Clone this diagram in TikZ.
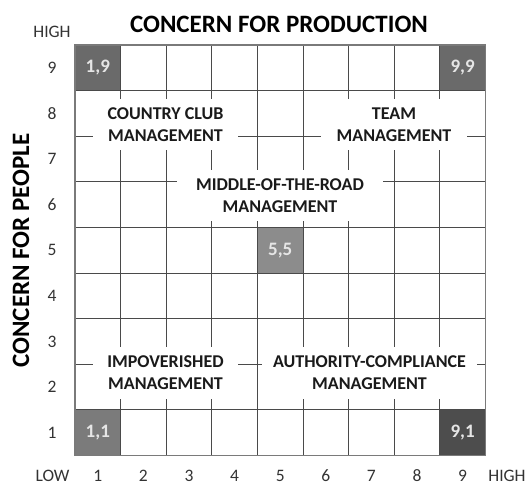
\documentclass[tikz,border=0pt]{standalone}
\usepackage{fontspec}
\setmainfont{Carlito}
\definecolor{gridgray}{HTML}{4A4A4A}
\definecolor{framegray}{HTML}{7A7A7A}
\definecolor{numgray}{HTML}{333333}
\definecolor{celltext}{HTML}{E6E6E6}
\definecolor{cellA}{HTML}{6A6A6A}
\definecolor{cellB}{HTML}{8C8C8C}
\definecolor{cellC}{HTML}{7B7B7B}
\definecolor{cellD}{HTML}{4D4D4D}
\definecolor{labeltext}{HTML}{1A1A1A}
\begin{document}
\begin{tikzpicture}[x=1pt,y=-1pt,
  gridline/.style={draw=gridgray, line width=0.9pt},
  frameline/.style={draw=framegray, line width=1.5pt},
  axisnum/.style={text=numgray, inner sep=0pt, font=\fontsize{17.5}{20}\selectfont},
  axistitle/.style={text=black, inner sep=0pt, font=\bfseries\fontsize{25}{30}\selectfont},
  cornercell/.style={minimum width=45.6pt, minimum height=45.6pt, inner sep=0pt,
    text=celltext, font=\bfseries\fontsize{19}{22}\selectfont},
  stylebox/.style={fill=white, inner sep=0pt, minimum height=51pt, align=center,
    text=labeltext, font=\bfseries\fontsize{18}{21.7}\selectfont}
]
\useasboundingbox (0,0) rectangle (525,486);
\def\gl{75}\def\gt{45}\def\cellsz{45.6}\def\gb{455.4}\def\gr{485.4}

% highlighted grid squares (column, row)
\node[cornercell, fill=cellA] (c19) at ({\gl+0.5*\cellsz},{\gb-8.5*\cellsz}) {1,9};
\node[cornercell, fill=cellA] (c99) at ({\gl+8.5*\cellsz},{\gb-8.5*\cellsz}) {9,9};
\node[cornercell, fill=cellB] (c55) at ({\gl+4.5*\cellsz},{\gb-4.5*\cellsz}) {5,5};
\node[cornercell, fill=cellC] (c11) at ({\gl+0.5*\cellsz},{\gb-0.5*\cellsz}) {1,1};
\node[cornercell, fill=cellD] (c91) at ({\gl+8.5*\cellsz},{\gb-0.5*\cellsz}) {9,1};

% inner grid lines
\foreach \k in {1,...,8}{
  \draw[gridline] ({\gl+\k*\cellsz},\gt) -- ({\gl+\k*\cellsz},\gb);
  \draw[gridline] (\gl,{\gt+\k*\cellsz}) -- (\gr,{\gt+\k*\cellsz});
}
% outer frame
\draw[frameline] (\gl,\gt) rectangle (\gr,\gb);

% management styles, set on white patches over the grid
\node[stylebox, minimum width=145pt] (club) at (165.5,125) {COUNTRY CLUB\\MANAGEMENT};
\node[stylebox, minimum width=146pt] (team) at (394,125) {TEAM\\MANAGEMENT};
\node[stylebox, minimum width=206pt] (middle) at (280,195.5) {MIDDLE-OF-THE-ROAD\\MANAGEMENT};
\node[stylebox, minimum width=145pt] (impov) at (165.5,373) {IMPOVERISHED\\MANAGEMENT};
\node[stylebox, minimum width=215pt] (auth) at (369.5,373) {AUTHORITY-COMPLIANCE\\MANAGEMENT};

% axis scales
\foreach \i in {1,...,9}{
  \node[axisnum] (xn\i) at ({\gl+(\i-0.5)*\cellsz},476) {\i};
  \node[axisnum] (yn\i) at (52,{\gb-(\i-0.5)*\cellsz}) {\i};
}
\node[axisnum] (low) at (52.5,476) {LOW};
\node[axisnum] (highx) at (507,476) {HIGH};
\node[axisnum] (highy) at (52,32) {HIGH};

% axis titles
\node[axistitle] (prod) at (279,24.5) {CONCERN FOR PRODUCTION};
\node[axistitle, rotate=90] (people) at (21,250.5) {CONCERN FOR PEOPLE};
\end{tikzpicture}
\end{document}
